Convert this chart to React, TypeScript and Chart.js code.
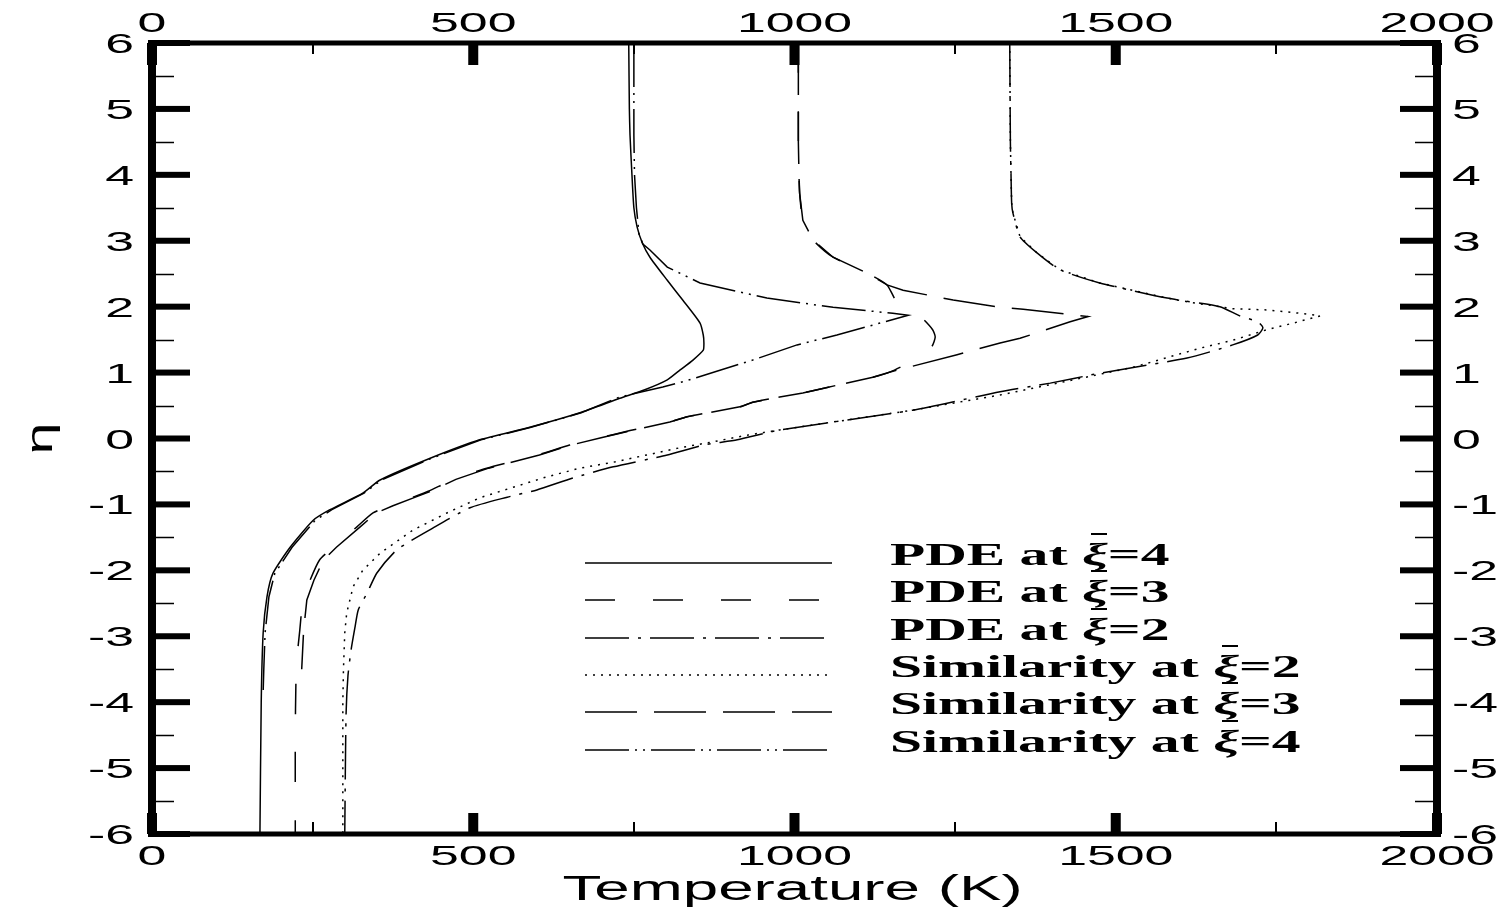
import React, { useEffect, useRef } from "react";
import { Chart, registerables } from "chart.js";

Chart.register(...registerables);

// ---- Axis ticks and titles ----
const tempMajorTicks = [0, 500, 1000, 1500, 2000];
const tempMinorTicks = [250, 750, 1250, 1750];
const etaMajorTicks = [-6, -5, -4, -3, -2, -1, 0, 1, 2, 3, 4, 5, 6];
const etaMinorTicks = [-5.5, -4.5, -3.5, -2.5, -1.5, -0.5, 0.5, 1.5, 2.5, 3.5, 4.5, 5.5];
const xTitle = "Temperature (K)";
const yTitle = "η";

// ---- Series labels ----
const seriesNames = ["PDE at", "PDE at", "PDE at", "Similarity at", "Similarity at", "Similarity at"];
const seriesXi = ["4", "3", "2", "2", "3", "4"];

// ---- PDE at xi = 4 (solid) ----
const pde4Temp = [742, 743, 744, 747, 750, 755, 763, 775, 802, 826, 853, 858, 859, 858, 842, 822, 802, 767, 728, 666, 588, 510, 433, 355, 328, 277, 251, 215, 188, 179, 173, 170, 168];
const pde4Eta = [6, 5, 4.6, 4.0, 3.5, 3.21, 2.97, 2.75, 2.40, 2.10, 1.75, 1.57, 1.45, 1.34, 1.19, 1.04, 0.89, 0.74, 0.61, 0.39, 0.17, -0.02, -0.30, -0.63, -0.83, -1.08, -1.24, -1.65, -2.05, -2.40, -2.95, -4.0, -6];

// ---- PDE at xi = 3 (dashed) ----
const pde3Temp = [1006, 1006, 1007, 1008, 1013, 1029, 1060, 1113, 1144, 1160, 1198, 1215, 1219, 1214, 1195, 1149, 1122, 1044, 1013, 977, 935, 915, 833, 806, 744, 697, 650, 600, 521, 470, 430, 406, 370, 344, 319, 282, 261, 246, 235, 230, 226, 224, 223, 223];
const pde3Eta = [6, 4.5, 4.0, 3.72, 3.31, 3.01, 2.75, 2.51, 2.33, 2.06, 1.83, 1.65, 1.54, 1.40, 1.24, 1.01, 0.93, 0.76, 0.69, 0.63, 0.55, 0.48, 0.33, 0.25, 0.12, 0.01, -0.10, -0.25, -0.45, -0.62, -0.80, -0.89, -1.02, -1.13, -1.34, -1.65, -1.84, -2.15, -2.45, -2.91, -3.3, -3.7, -4.5, -6];

// ---- PDE at xi = 2 (dash-dot) ----
const pde2Temp = [1335, 1336, 1337, 1338, 1340, 1351, 1377, 1413, 1475, 1580, 1662, 1693, 1721, 1729, 1721, 1682, 1611, 1475, 1398, 1320, 1184, 977, 911, 858, 802, 718, 655, 599, 553, 495, 437, 381, 350, 335, 321, 316, 310, 305, 302, 300];
const pde2Eta = [6, 4.5, 4.0, 3.57, 3.42, 3.06, 2.82, 2.56, 2.36, 2.13, 2.00, 1.86, 1.77, 1.68, 1.57, 1.42, 1.22, 0.99, 0.84, 0.71, 0.43, 0.13, -0.02, -0.10, -0.25, -0.43, -0.60, -0.78, -0.89, -1.05, -1.36, -1.69, -2.04, -2.34, -2.60, -2.86, -3.2, -3.6, -4.2, -6];

// ---- Similarity at xi = 2 (dotted) ----
const sim2Temp = [1335, 1336, 1337, 1338, 1340, 1351, 1377, 1413, 1475, 1580, 1620, 1682, 1735, 1787, 1818, 1776, 1735, 1682, 1631, 1527, 1424, 1320, 1184, 977, 926, 873, 822, 770, 718, 666, 615, 562, 510, 459, 406, 355, 328, 313, 303, 300, 298, 297, 297];
const sim2Eta = [6, 4.5, 4.0, 3.57, 3.42, 3.06, 2.82, 2.56, 2.36, 2.13, 2.06, 1.97, 1.95, 1.90, 1.86, 1.75, 1.65, 1.49, 1.37, 1.08, 0.87, 0.66, 0.43, 0.13, 0.05, -0.05, -0.14, -0.25, -0.36, -0.45, -0.58, -0.74, -0.90, -1.13, -1.39, -1.74, -2.00, -2.25, -2.65, -2.95, -3.5, -4.0, -6];

// ---- Similarity at xi = 3 (long dash) ----
const sim3Temp = [1006, 1006, 1007, 1008, 1013, 1029, 1060, 1113, 1144, 1169, 1247, 1320, 1356, 1457, 1429, 1351, 1320, 1253, 1149, 1122, 1044, 1013, 977, 935, 915, 833, 806, 746, 699, 652, 603, 524, 473, 434, 410, 375, 349, 324, 287, 267, 252, 241, 236, 233];
const sim3Eta = [6, 4.5, 4.0, 3.72, 3.31, 3.01, 2.75, 2.51, 2.33, 2.25, 2.10, 1.99, 1.96, 1.85, 1.77, 1.52, 1.45, 1.27, 1.01, 0.93, 0.76, 0.69, 0.63, 0.55, 0.48, 0.33, 0.25, 0.12, 0.01, -0.10, -0.25, -0.45, -0.62, -0.80, -0.89, -1.02, -1.13, -1.34, -1.65, -1.84, -2.15, -2.45, -2.91, -3.5];

// ---- Similarity at xi = 4 (dash-dot-dot) ----
const sim4Temp = [750, 750, 751, 754, 758, 764, 775, 802, 853, 957, 1060, 1153, 1177, 1066, 1004, 935, 879, 833, 795, 728, 668, 590, 512, 435, 357, 330, 280, 254, 218, 191, 182, 176, 174, 173];
const sim4Eta = [6, 4.6, 4.0, 3.5, 3.1, 2.95, 2.86, 2.60, 2.36, 2.13, 1.99, 1.90, 1.87, 1.57, 1.42, 1.19, 1.02, 0.88, 0.78, 0.63, 0.39, 0.17, -0.02, -0.30, -0.63, -0.83, -1.08, -1.24, -1.65, -2.05, -2.40, -2.95, -3.5, -3.85];

const SANS = "'Liberation Sans', Arial, Helvetica, sans-serif";
const SERIF = "'Liberation Serif', 'Times New Roman', serif";

function pts(t: number[], e: number[]) {
  return t.map((v, i) => ({ x: v, y: e[i] }));
}

function drawStretched(
  ctx: CanvasRenderingContext2D,
  text: string,
  x: number,
  y: number,
  font: string,
  align: "left" | "center" | "right",
  sx: number
) {
  ctx.save();
  ctx.font = font;
  const w = ctx.measureText(text).width * sx;
  const x0 = align === "center" ? x - w / 2 : align === "right" ? x - w : x;
  ctx.translate(x0, y);
  ctx.scale(sx, 1);
  ctx.textAlign = "left";
  ctx.textBaseline = "alphabetic";
  ctx.fillText(text, 0, 0);
  ctx.restore();
  return w;
}

const decorPlugin = {
  id: "decor",
  beforeDraw(chart: any) {
    const ctx = chart.ctx as CanvasRenderingContext2D;
    ctx.save();
    ctx.fillStyle = "#fff";
    ctx.fillRect(0, 0, chart.width, chart.height);
    ctx.restore();
  },
  afterDraw(chart: any) {
    const ctx = chart.ctx as CanvasRenderingContext2D;
    const xs = chart.scales.x;
    const ys = chart.scales.y;
    const { left, right, top, bottom } = chart.chartArea;
    ctx.save();
    ctx.fillStyle = "#000";
    ctx.strokeStyle = "#000";

    // minor ticks
    ctx.lineWidth = 1.5;
    etaMinorTicks.forEach((v) => {
      const py = Math.round(ys.getPixelForValue(v)) + 0.5;
      ctx.beginPath();
      ctx.moveTo(left, py);
      ctx.lineTo(left + 22, py);
      ctx.moveTo(right - 22, py);
      ctx.lineTo(right, py);
      ctx.stroke();
    });
    ctx.lineWidth = 2;
    tempMinorTicks.forEach((v) => {
      const px = Math.round(xs.getPixelForValue(v));
      ctx.beginPath();
      ctx.moveTo(px, top);
      ctx.lineTo(px, top + 11);
      ctx.moveTo(px, bottom);
      ctx.lineTo(px, bottom - 12);
      ctx.stroke();
    });

    // major ticks
    etaMajorTicks.forEach((v) => {
      const py = ys.getPixelForValue(v);
      ctx.fillRect(left, py - 3, 38, 6);
      ctx.fillRect(right - 37, py - 3, 37, 6);
    });
    tempMajorTicks.forEach((v) => {
      const px = xs.getPixelForValue(v);
      ctx.fillRect(px - 5, top, 10, 22);
      ctx.fillRect(px - 5, bottom - 21, 10, 21);
    });

    // frame
    ctx.fillRect(left - 4, top - 3, 8, bottom - top + 6);
    ctx.fillRect(right - 4, top - 3, 8, bottom - top + 6);
    ctx.fillRect(left - 4, top - 2.5, right - left + 8, 5);
    ctx.fillRect(left - 4, bottom - 2.5, right - left + 8, 5);

    // tick labels
    const tickFont = `28px ${SANS}`;
    const sx = 1.85;
    tempMajorTicks.forEach((v) => {
      const px = xs.getPixelForValue(v);
      drawStretched(ctx, String(v), px, top - 11, tickFont, "center", sx);
      drawStretched(ctx, String(v), px, bottom + 31, tickFont, "center", sx);
    });
    etaMajorTicks.forEach((v) => {
      const py = ys.getPixelForValue(v);
      drawStretched(ctx, String(v), left - 18, py + 10, tickFont, "right", sx);
      drawStretched(ctx, String(v), right + 15, py + 10, tickFont, "left", sx);
    });

    // axis titles
    drawStretched(ctx, xTitle, (left + right) / 2 - 2, bottom + 66, `35px ${SANS}`, "center", 1.82);
    ctx.save();
    ctx.translate(52, (top + bottom) / 2);
    ctx.rotate(-Math.PI / 2);
    drawStretched(ctx, yTitle, 0, 0, `36px ${SANS}`, "center", 1.6);
    ctx.restore();

    // legend
    const datasets = chart.data.datasets;
    const legendFont = `bold 32px ${SERIF}`;
    const xiFont = `italic bold 32px ${SERIF}`;
    const lsx = 1.8;
    datasets.forEach((ds: any, i: number) => {
      const ly = Math.round(563 + i * 37.3);
      ctx.save();
      ctx.lineWidth = 1.5;
      ctx.setLineDash(ds.borderDash || []);
      ctx.beginPath();
      ctx.moveTo(585, ly);
      ctx.lineTo(832, ly);
      ctx.stroke();
      ctx.restore();

      let tx = 890;
      const base = ly + 2;
      tx += drawStretched(ctx, seriesNames[i] + " ", tx, base, legendFont, "left", lsx);
      const xiW = drawStretched(ctx, "ξ", tx, base, xiFont, "left", lsx);
      ctx.save();
      ctx.fillRect(Math.round(tx + xiW * 0.35), base - 32, Math.round(xiW * 0.6), 2);
      ctx.restore();
      tx += xiW;
      drawStretched(ctx, "=" + seriesXi[i], tx, base, legendFont, "left", lsx);
    });

    ctx.restore();
  },
};

function lineDs(label: string, data: any[], dash: number[], tension: number) {
  return {
    label,
    data,
    showLine: true,
    borderColor: "#000",
    backgroundColor: "#000",
    borderWidth: 1.5,
    borderDash: dash,
    pointRadius: 0,
    tension,
    fill: false,
  };
}

export default function App() {
  const ref = useRef<HTMLCanvasElement>(null);
  useEffect(() => {
    document.body.style.margin = "0";
    const canvas = ref.current;
    if (!canvas) return;
    const hidden = {
      grid: { display: false },
      border: { display: false },
      ticks: { display: false },
    };
    const chart = new Chart(canvas, {
      type: "scatter",
      data: {
        datasets: [
          lineDs("PDE at ξ=4", pts(pde4Temp, pde4Eta), [], 0.2),
          lineDs("PDE at ξ=3", pts(pde3Temp, pde3Eta), [30, 38], 0.2),
          lineDs("PDE at ξ=2", pts(pde2Temp, pde2Eta), [44, 9, 3, 9], 0.2),
          lineDs("Similarity at ξ=2", pts(sim2Temp, sim2Eta), [2, 6], 0),
          lineDs("Similarity at ξ=3", pts(sim3Temp, sim3Eta), [52, 17], 0),
          lineDs("Similarity at ξ=4", pts(sim4Temp, sim4Eta), [44, 6, 2, 6, 2, 6], 0),
        ],
      },
      options: {
        responsive: false,
        animation: false,
        layout: { padding: 0 },
        plugins: { legend: { display: false }, tooltip: { enabled: false } },
        scales: {
          x: {
            type: "linear",
            position: "bottom",
            min: 0,
            max: 2000,
            ...hidden,
            afterFit: (s: any) => {
              s.height = 74;
            },
          },
          x2: {
            type: "linear",
            position: "top",
            min: 0,
            max: 2000,
            ...hidden,
            afterFit: (s: any) => {
              s.height = 43;
            },
          },
          y: {
            type: "linear",
            position: "left",
            min: -6,
            max: 6,
            ...hidden,
            afterFit: (s: any) => {
              s.width = 152;
            },
          },
          y2: {
            type: "linear",
            position: "right",
            min: -6,
            max: 6,
            ...hidden,
            afterFit: (s: any) => {
              s.width = 75;
            },
          },
        },
      } as any,
      plugins: [decorPlugin],
    });
    return () => chart.destroy();
  }, []);
  return (
    <div style={{ width: 1512, height: 908, background: "#fff" }}>
      <canvas ref={ref} width={1512} height={908} style={{ display: "block", width: 1512, height: 908 }} />
    </div>
  );
}
